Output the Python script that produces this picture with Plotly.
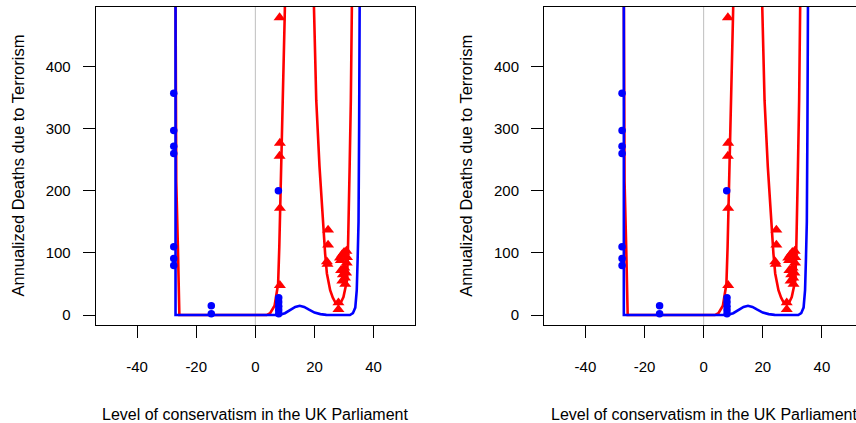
import plotly.graph_objects as go

# ---- data ----
blue_pts_x = [-27.6, -27.6, -27.6, -27.6, -27.6, -27.6, -27.6, -14.9, -14.9,
              7.8, 7.9, 7.9, 7.9, 7.9, 7.9]
blue_pts_y = [357, 297, 272, 260, 110, 91, 80, 15, 2,
              200, 28, 21, 14, 8, 2]

red_pts_x = [8.2, 8.3, 8.2, 8.3, 8.3,
             24.6, 24.6, 24.2, 24.4,
             28.6, 29.3, 30.0, 30.8, 29.0, 29.6, 30.3, 30.9, 29.4, 30.1, 30.7, 28.9,
             30.4, 31.0, 28.1, 28.1]
red_pts_y = [479, 277, 256, 172, 48,
             137, 113, 86, 82,
             92, 97, 101, 103, 72, 65, 60, 84, 55, 76, 68, 88,
             50, 93, 20, 9]

blue_curve_x = [-27.0, -27.0, 0.0, 8.0, 10.0, 12.0, 13.5, 15.0, 16.5, 18.0,
                20.0, 22.0, 24.0, 32.0, 33.0, 33.8, 34.3, 34.6, 34.9, 35.1, 35.3]
blue_curve_y = [520, 0, 0, 0, 3, 9, 13, 15, 13, 9,
                4, 1.5, 0.3, 0, 3, 12, 40, 90, 150, 300, 520]

red_left_x = [-27.0, -27.0, -26.75, -26.2, -25.8, -25.7, 3.8, 5.0, 6.5, 7.3, 7.7,
              8.1, 8.45, 9.0, 9.5, 9.9, 10.1]
red_left_y = [520, 250, 215, 110, 20, 0, 0, 3, 15, 35, 50,
              110, 172, 277, 380, 475, 520]

red_u_x = [19.7, 20.6, 21.7, 22.9, 23.6, 24.2, 25.3, 26.2, 27.0, 28.1, 29.0,
           29.8, 30.4, 31.0, 31.3, 31.6, 31.9, 32.3, 32.7]
red_u_y = [520, 346, 239, 140, 99, 67, 40, 28, 21, 17, 21,
           29, 42, 56, 99, 150, 240, 346, 520]

x_ticks = [-40, -20, 0, 20, 40]
y_ticks = [0, 100, 200, 300, 400]
x_title = "Level of conservatism in the UK Parliament"
y_title = "Annualized Deaths due to Terrorism"

# ---- layout constants (pixels) ----
W, H = 856, 423
FONT = "Liberation Sans, Arial, sans-serif"
plot_top, plot_bot = 6.7, 325.0
ydom = [(H - plot_bot) / H, (H - plot_top) / H]
PX_PER_X = (415.0 - 95.7) / 108.0
panels = [
    dict(left=95.7, right=415.0, xr=[-54, 54], mirror_y=True, full_right=415.0),
    dict(left=544.0, right=W, xr=[-54, -54 + (W - 544.0) / PX_PER_X],
         mirror_y=False, full_right=863.0),
]

fig = go.Figure()
annotations = []
shapes = []
for i, p in enumerate(panels):
    xa = "x" if i == 0 else f"x{i+1}"
    ya = "y" if i == 0 else f"y{i+1}"
    fig.add_trace(go.Scatter(x=red_left_x, y=red_left_y, mode="lines",
                             line=dict(color="#FF0000", width=2.6),
                             xaxis=xa, yaxis=ya, showlegend=False, hoverinfo="skip"))
    fig.add_trace(go.Scatter(x=red_u_x, y=red_u_y, mode="lines",
                             line=dict(color="#FF0000", width=2.6),
                             xaxis=xa, yaxis=ya, showlegend=False, hoverinfo="skip"))
    fig.add_trace(go.Scatter(x=blue_curve_x, y=blue_curve_y, mode="lines",
                             line=dict(color="#0000FF", width=2.6),
                             xaxis=xa, yaxis=ya, showlegend=False, hoverinfo="skip"))
    fig.add_trace(go.Scatter(x=red_pts_x, y=red_pts_y, mode="markers",
                             marker=dict(symbol="triangle-up", size=10.5, color="#FF0000"),
                             xaxis=xa, yaxis=ya, showlegend=False))
    fig.add_trace(go.Scatter(x=blue_pts_x, y=blue_pts_y, mode="markers",
                             marker=dict(symbol="circle", size=7.5, color="#0000FF"),
                             xaxis=xa, yaxis=ya, showlegend=False))

    axis_common = dict(showgrid=False, zeroline=False, showline=True,
                       linecolor="black", linewidth=1, ticks="outside",
                       ticklen=12, tickcolor="black", tickwidth=1,
                       tickfont=dict(family=FONT, size=15, color="black"))
    fig.layout[("xaxis" if i == 0 else f"xaxis{i+1}")] = dict(
        domain=[p["left"] / W, p["right"] / W], range=p["xr"],
        tickvals=x_ticks, ticktext=[str(v) for v in x_ticks],
        anchor=ya, mirror=True, ticklabelstandoff=16, **axis_common)
    fig.layout[("yaxis" if i == 0 else f"yaxis{i+1}")] = dict(
        domain=ydom, range=[-16, 496.5],
        tickvals=y_ticks, ticktext=[str(v) for v in y_ticks],
        anchor=xa, mirror=p["mirror_y"], ticklabelstandoff=9, **axis_common)

    shapes.append(dict(type="line", xref=xa, yref=f"{ya} domain", x0=0, x1=0,
                       y0=0, y1=1, line=dict(color="#BEBEBE", width=1), layer="below"))
    cx = (p["left"] + p["full_right"]) / 2
    annotations.append(dict(text=x_title, xref="paper", yref="paper",
                            x=cx / W, y=(H - 414) / H, showarrow=False,
                            xanchor="center", yanchor="middle",
                            font=dict(family=FONT, size=16, color="black")))
    annotations.append(dict(text=y_title, xref="paper", yref="paper",
                            x=(p["left"] - 78) / W,
                            y=(H - (plot_top + plot_bot) / 2) / H,
                            showarrow=False, textangle=-90,
                            xanchor="center", yanchor="middle",
                            font=dict(family=FONT, size=16.5, color="black")))

fig.update_layout(width=W, height=H, autosize=False,
                  margin=dict(l=0, r=0, t=0, b=0),
                  paper_bgcolor="white", plot_bgcolor="white",
                  shapes=shapes, annotations=annotations)

fig.write_html(
    "out.html",
    config={"displayModeBar": False},
    post_script="document.body.style.margin='0';"
                "document.documentElement.style.overflow='hidden';",
)
